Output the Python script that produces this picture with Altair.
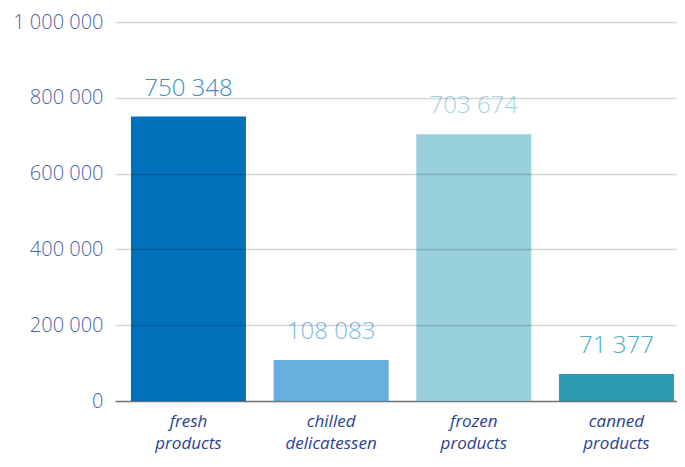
import altair as alt
import pandas as pd

categories = ["fresh products", "chilled delicatessen", "frozen products", "canned products"]
values = [750348, 108083, 703674, 71377]
bar_colors = ["#0070BA", "#65AEDD", "#98D0DC", "#2B9AB3"]
label_colors = ["#3C8DCD", "#7DB9E2", "#A4D4E0", "#4CADC5"]
y_ticks = [0, 100000, 200000, 300000, 400000, 500000, 600000, 700000, 800000, 900000, 1000000]

df = pd.DataFrame({"cat": categories, "value": values, "bar": bar_colors, "lab": label_colors})

fmt = "replace(replace(format(datum.value, ','), ',', ' '), ',', ' ')"

base = alt.Chart(df).encode(
    x=alt.X("cat:N", sort=categories, title=None,
            scale=alt.Scale(paddingInner=0.194, paddingOuter=0.0666, align=0.84),
            axis=alt.Axis(labelExpr="split(datum.label, ' ')", labelAngle=0,
                          labelFont="Open Sans", labelFontStyle="italic", labelFontSize=17,
                          labelColor="#2B3F8F", labelPadding=12, labelLineHeight=22,
                          labelBaseline="top",
                          ticks=False, domainColor="#8a8a8a", domainWidth=1.5,
                          grid=False)),
)

bars = base.mark_bar().encode(
    y=alt.Y("value:Q", title=None,
            scale=alt.Scale(domain=[0, 1000000]),
            axis=alt.Axis(values=y_ticks,
                          labelExpr="datum.value % 200000 == 0 ? replace(replace(format(datum.value, ','), ',', ' '), ',', ' ') : ''",
                          labelFont="Open Sans", labelFontWeight=300, labelFontSize=20,
                          labelColor="#4F5FA5", labelPadding=12, ticks=False, domain=False,
                          gridColor="#000000", gridOpacity=0.16, gridWidth=1.5, zindex=1)),
    color=alt.Color("bar:N", scale=None),
)

texts = base.transform_calculate(txt=fmt).mark_text(
    font="Open Sans", fontWeight=300, fontSize=24, baseline="middle", dy=-28
).encode(
    y=alt.Y("value:Q"),
    text="txt:N",
    color=alt.Color("lab:N", scale=None),
)

chart = alt.layer(bars, texts).properties(
    width=562, height=379,
    autosize=alt.AutoSizeParams(type="none"),
    padding={"left": 107, "top": 14, "right": 0, "bottom": 57},
).configure_view(stroke=None)

chart.save("out.html", embed_options={"renderer": "svg", "actions": False})
